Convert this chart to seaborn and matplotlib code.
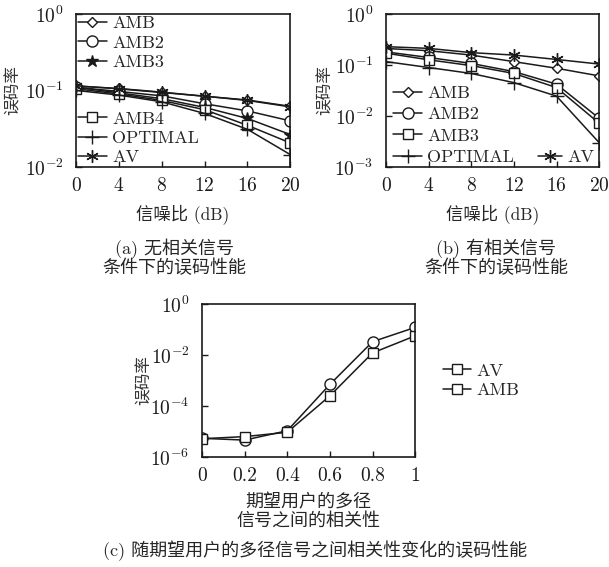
"""
BER curves: (a) no correlated signal, (b) with correlated signal,
(c) BER vs correlation between the desired user's multipath signals.
"""
import matplotlib
matplotlib.use('Agg')
import numpy as np
import pandas as pd
import seaborn as sns
import matplotlib.pyplot as plt
from matplotlib.lines import Line2D
from matplotlib.ticker import NullLocator

###
# Data

SNR = [0, 4, 8, 12, 16, 20]

# (a) no correlated signal
A_AMB = [0.114, 0.106, 0.095, 0.084, 0.075, 0.062]
A_AMB2 = [0.110, 0.097, 0.085, 0.067, 0.054, 0.040]
A_AMB3 = [0.110, 0.093, 0.078, 0.060, 0.043, 0.0265]
A_AMB4 = [0.105, 0.090, 0.074, 0.056, 0.035, 0.0206]
A_OPT = [0.100, 0.087, 0.071, 0.050, 0.031, 0.0145]
A_AV = [0.115, 0.105, 0.094, 0.084, 0.074, 0.061]

# (b) with correlated signal
B_AMB = [0.21, 0.19, 0.156, 0.116, 0.086, 0.061]
B_AMB2 = [0.18, 0.14, 0.107, 0.074, 0.042, 0.009]
B_AMB3 = [0.17, 0.126, 0.097, 0.068, 0.036, 0.0072]
B_OPT = [0.116, 0.089, 0.068, 0.045, 0.0245, 0.003]
B_AV = [0.228, 0.211, 0.174, 0.156, 0.128, 0.104]

# (c) BER vs correlation
RHO = [0, 0.2, 0.4, 0.6, 0.8, 1]
RHO_LABELS = ['0', '0.2', '0.4', '0.6', '0.8', '1']
C_AV = [5.4e-6, 4.6e-6, 1.07e-5, 7e-4, 3.3e-2, 0.12]
C_AMB = [5.2e-6, 6.3e-6, 9.3e-6, 2.5e-4, 1.2e-2, 5.6e-2]

###
# Style

sns.set_theme(style='ticks')
plt.rcParams['font.family'] = ['cmr10', 'Noto Sans CJK SC', 'DejaVu Sans']
plt.rcParams['mathtext.fontset'] = 'cm'
plt.rcParams['axes.formatter.use_mathtext'] = True
plt.rcParams['axes.unicode_minus'] = False

TICK_FS = 14
LEG_FS = 13
CJK_FS = 12.5
ASTER = (6, 2, 0)


def draw(ax, x, y, label, marker, ms=7, fill='white'):
    sns.lineplot(x=x, y=y, ax=ax, color='k', lw=1.1, marker=marker,
                 markersize=ms, markerfacecolor=fill, markeredgecolor='k',
                 markeredgewidth=1.0, label=label, legend=False)


def style_axes(ax, xticks, xlim, ylim, ymajors, ylab_x):
    ax.set_yscale('log')
    ax.set_xlim(*xlim)
    ax.set_ylim(*ylim)
    ax.set_xticks(xticks)
    ax.set_yticks(ymajors)
    ax.yaxis.set_minor_locator(NullLocator())
    ax.tick_params(direction='in', length=4, width=1, labelsize=TICK_FS,
                   colors='k')
    ax.tick_params(axis='y', pad=9)
    ax.tick_params(axis='x', pad=7)
    for s in ax.spines.values():
        s.set_visible(True)
        s.set_color('k')
        s.set_linewidth(1.2)
    ax.set_ylabel('误码率', fontsize=12, color='#333333')
    ax.yaxis.set_label_coords(ylab_x, 0.5)


fig = plt.figure(figsize=(6.09, 5.67), dpi=100)
ax_a = fig.add_axes([0.1248, 0.7055, 0.352, 0.27])
ax_b = fig.add_axes([0.6338, 0.7055, 0.350, 0.27])
ax_c = fig.add_axes([0.3317, 0.194, 0.350, 0.27])

kw = dict(frameon=False, fontsize=LEG_FS, handlelength=1.6, handletextpad=0.3,
          borderaxespad=0.0, borderpad=0.1, labelspacing=0.2)

# (a)
draw(ax_a, SNR, A_AMB, 'AMB', 'D', ms=5.5)
draw(ax_a, SNR, A_AMB2, 'AMB2', 'o', ms=8)
draw(ax_a, SNR, A_AMB3, 'AMB3', '*', ms=9, fill='k')
draw(ax_a, SNR, A_AMB4, 'AMB4', 's', ms=6.5)
draw(ax_a, SNR, A_OPT, 'OPTIMAL', '+', ms=10)
draw(ax_a, SNR, A_AV, 'AV', ASTER, ms=9)
style_axes(ax_a, SNR, (0, 20), (1e-2, 1), [1e-2, 1e-1, 1], -0.26)
ax_a.set_xlabel('信噪比 (dB)', fontsize=CJK_FS, labelpad=7)
h, l = ax_a.get_legend_handles_labels()
leg1 = ax_a.legend(h[:3], l[:3], loc='upper left', **kw)
ax_a.add_artist(leg1)
ax_a.legend(h[3:], l[3:], loc='lower left', **kw)

# (b)
draw(ax_b, SNR, B_AMB, 'AMB', 'D', ms=5.5)
draw(ax_b, SNR, B_AMB2, 'AMB2', 'o', ms=8)
draw(ax_b, SNR, B_AMB3, 'AMB3', 's', ms=6.5)
draw(ax_b, SNR, B_OPT, 'OPTIMAL', '+', ms=10)
draw(ax_b, SNR, B_AV, 'AV', ASTER, ms=9)
style_axes(ax_b, SNR, (0, 20), (1e-3, 1), [1e-3, 1e-2, 1e-1, 1], -0.25)
ax_b.set_xlabel('信噪比 (dB)', fontsize=CJK_FS, labelpad=7)
h, l = ax_b.get_legend_handles_labels()
kw_b = dict(kw, labelspacing=0.32)
leg2 = ax_b.legend(h[:4], l[:4], loc='lower left',
                   bbox_to_anchor=(0.025, 0.0), **kw_b)
ax_b.add_artist(leg2)
ax_b.legend(h[4:], l[4:], loc='lower right',
            bbox_to_anchor=(0.985, 0.0), **dict(kw_b, handlelength=1.3))

# (c)
draw(ax_c, RHO, C_AV, 'AV', 'o', ms=8)
draw(ax_c, RHO, C_AMB, 'AMB', 's', ms=6.5)
style_axes(ax_c, RHO, (0, 1), (1e-6, 1), [1e-6, 1e-4, 1e-2, 1], -0.235)
ax_c.set_xticklabels(RHO_LABELS)
ax_c.set_xlabel('期望用户的多径\n信号之间的相关性', fontsize=CJK_FS + 0.5,
                linespacing=1.1, labelpad=6)
sq = [Line2D([], [], color='k', lw=1.1, marker='s', markersize=6.5,
             markerfacecolor='white', markeredgecolor='k') for _ in range(2)]
ax_c.legend(sq, ['AV', 'AMB'], loc='center left',
            bbox_to_anchor=(1.12, 0.5), **kw)

# captions
fig.text(0.286, 0.546, '(a) 无相关信号\n条件下的误码性能', ha='center', va='center',
         fontsize=13, linespacing=1.0)
fig.text(0.815, 0.546, '(b) 有相关信号\n条件下的误码性能', ha='center', va='center',
         fontsize=13, linespacing=1.0)
fig.text(0.517, 0.028, '(c) 随期望用户的多径信号之间相关性变化的误码性能',
         ha='center', va='center', fontsize=13)

fig.savefig('out.png', dpi=100)
